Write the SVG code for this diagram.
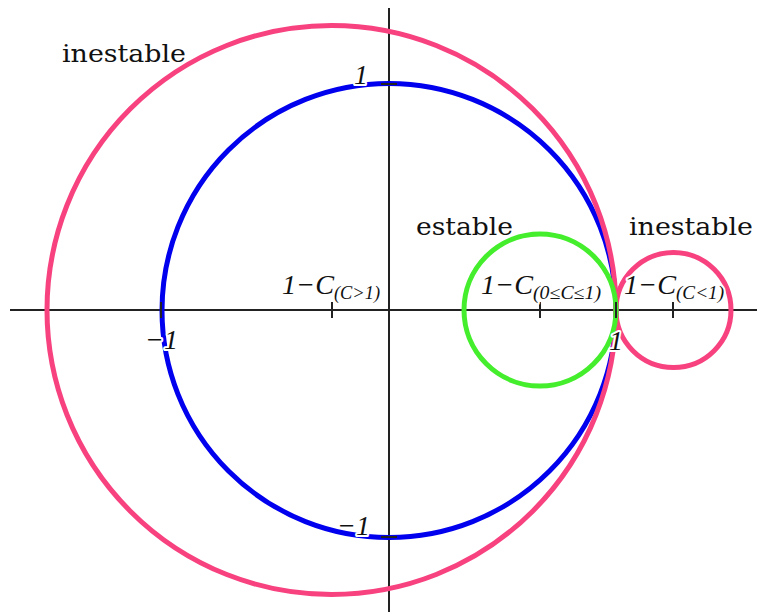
<svg xmlns="http://www.w3.org/2000/svg" width="757" height="612" viewBox="0 0 757 612">
<style>
.c{fill:none;stroke-width:5}
.ax{stroke:#222;stroke-width:2;fill:none}
.tk{stroke:#222;stroke-width:2}
.lab{font-family:"Liberation Serif","DejaVu Serif",serif;font-style:italic;fill:#111}
.word{font-family:"DejaVu Serif","Liberation Serif",serif;font-size:25px;fill:#111}
.halo{stroke:#fff;stroke-width:4;paint-order:stroke;stroke-linejoin:round}
</style>
<rect width="757" height="612" fill="#fff"/>
<g id="axes">
<line class="ax" x1="10" y1="310" x2="757" y2="310"/>
<line class="ax" x1="389" y1="8" x2="389" y2="612"/>
</g>
<g id="unit-circle"><circle class="c" stroke="#0000ee" cx="389" cy="310.5" r="227"/></g>
<g id="big-circle"><circle class="c" stroke="#f7427f" cx="331.5" cy="310" r="284.5"/></g>
<g id="small-circle"><circle class="c" stroke="#f7427f" cx="673.5" cy="310" r="57.5"/></g>
<g id="green-circle"><circle class="c" stroke="#44ee2c" cx="540" cy="310" r="76"/></g>
<g id="ticks">
<line class="tk" x1="332" y1="302" x2="332" y2="318"/>
<line class="tk" x1="540" y1="302" x2="540" y2="318"/>
<line class="tk" x1="673" y1="302" x2="673" y2="318"/>
<line class="tk" x1="616" y1="302" x2="616" y2="318"/>
<line class="tk" x1="161" y1="302" x2="161" y2="318"/>
<line class="tk" x1="381" y1="84" x2="397" y2="84"/>
<line class="tk" x1="381" y1="537" x2="397" y2="537"/>
</g>
<g id="labels">
<text class="word" x="62" y="62" textLength="124" lengthAdjust="spacingAndGlyphs">inestable</text>
<text class="word" x="416" y="235" textLength="97" lengthAdjust="spacingAndGlyphs">estable</text>
<text class="word" x="629" y="235" textLength="124" lengthAdjust="spacingAndGlyphs">inestable</text>
<text class="lab halo" x="282" y="294" font-size="28"><tspan textLength="52" lengthAdjust="spacingAndGlyphs">1−C</tspan><tspan font-size="18" dy="5" textLength="46" lengthAdjust="spacingAndGlyphs">(C&gt;1)</tspan></text>
<text class="lab halo" x="481" y="294" font-size="28"><tspan textLength="52" lengthAdjust="spacingAndGlyphs">1−C</tspan><tspan font-size="18" dy="5" textLength="68" lengthAdjust="spacingAndGlyphs">(0≤C≤1)</tspan></text>
<text class="lab halo" x="624" y="294" font-size="28"><tspan textLength="52" lengthAdjust="spacingAndGlyphs">1−C</tspan><tspan font-size="18" dy="5" textLength="48" lengthAdjust="spacingAndGlyphs">(C&lt;1)</tspan></text>
<text class="lab halo" x="354" y="84" font-size="28">1</text>
<text class="lab halo" x="145" y="349" font-size="28">−1</text>
<text class="lab halo" x="609" y="350" font-size="28">1</text>
<text class="lab halo" x="337" y="535" font-size="28">−1</text>
</g>
</svg>
